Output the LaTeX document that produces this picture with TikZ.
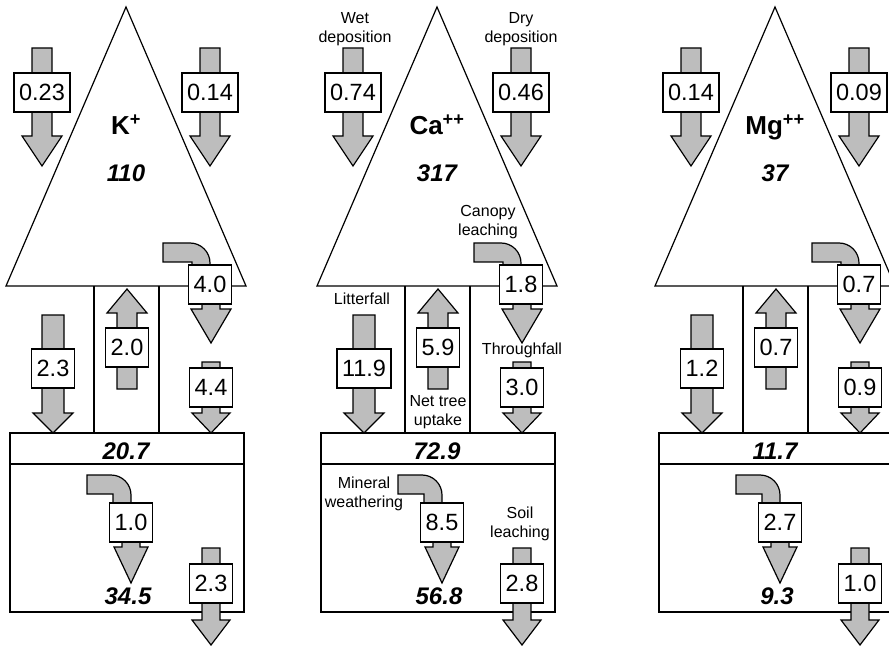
\documentclass[tikz,border=0pt]{standalone}
\usepackage{fontspec}
\setmainfont{Liberation Sans}
\usetikzlibrary{positioning}

\tikzset{
  flowarrow/.style={fill=black!26, draw=black, line width=1.2pt, line join=miter},
  val/.style={draw, fill=white, line width=1.5pt, inner xsep=5pt, inner ysep=0pt,
    minimum height=39pt, font=\fontsize{23.5}{26}\selectfont},
  ion/.style={anchor=base, font=\fontsize{26}{28}\selectfont\bfseries},
  pool/.style={anchor=base, font=\fontsize{24}{26}\selectfont\bfseries\itshape},
  lbl/.style={anchor=base, align=center, inner sep=0pt, font=\fontsize{16}{19}\selectfont},
}

% straight block arrow: x, tail, head base, tip, shaft half width, head half width
\newcommand{\blockarrow}[6]{%
  \filldraw[flowarrow] ({#1-#5},#2) -- ({#1+#5},#2) -- ({#1+#5},#3) -- ({#1+#6},#3)
    -- (#1,#4) -- ({#1-#6},#3) -- ({#1-#5},#3) -- cycle;}
% bent block arrow: start x, band top, right edge of the shaft, shaft end
\newcommand{\bentarrow}[4]{%
  \filldraw[flowarrow] (#1,#2) -- ({#3-20},#2) arc[start angle=-90, end angle=0, radius=20]
    -- (#3,#4) -- ({#3-18},#4) -- ({#3-18},{#2+19}) -- (#1,{#2+19}) -- cycle;}
% tree, floor and soil with the arrows, same for every ion
\newcommand{\panelframe}{%
  \draw[line width=1.2pt, line join=miter] (0,7) -- (120,286) -- (-120,286) -- cycle;
  \draw[line width=1.2pt] (-32,286) -- (-32,433) (33,286) -- (33,433);
  \draw[line width=1.5pt] (-116,433) rectangle (118,612);
  \draw[line width=1.2pt] (-116,464) -- (118,464);
  \blockarrow{-84}{48}{136}{166}{10}{20}
  \blockarrow{84}{48}{136}{166}{10}{20}
  \bentarrow{37}{243}{84}{275}
  \blockarrow{85}{295}{309}{343}{9}{20}
  \blockarrow{-73}{315}{413}{433}{11}{20}
  \blockarrow{1}{389}{313}{289}{10}{20}
  \blockarrow{85}{362}{413}{433}{9}{19}
  \bentarrow{-39}{475}{5}{515}
  \blockarrow{5}{530}{547}{583}{9}{17}
  \blockarrow{85}{548}{620}{645}{9}{19}}

\begin{document}
\begin{tikzpicture}[x=1pt, y=-1pt]
  \useasboundingbox (0,0) rectangle (889,647);
  \clip (0,0) rectangle (889,647);

  % potassium
  \begin{scope}[xshift=126pt]
    \panelframe
    \node[ion] (k-ion) at (0,135) {K\textsuperscript{+}};
    \node[pool] (k-tree) at (0,182) {110};
    \node[pool] (k-floor) at (0,459) {20.7};
    \node[pool] (k-soil) at (2,604) {34.5};
    \node[val] (k-wet) at (-84,92.5) {0.23};
    \node[val] (k-dry) at (84,92.5) {0.14};
    \node[val] (k-canopy) at (84,284.5) {4.0};
    \node[val] (k-litter) at (-73,368.5) {2.3};
    \node[val] (k-uptake) at (1,347.5) {2.0};
    \node[val] (k-through) at (85,387.5) {4.4};
    \node[val] (k-weath) at (5,522.5) {1.0};
    \node[val] (k-leach) at (85,583.5) {2.3};
  \end{scope}

  % calcium
  \begin{scope}[xshift=437pt]
    \panelframe
    \node[ion] (ca-ion) at (0,135) {Ca\textsuperscript{++}};
    \node[pool] (ca-tree) at (0,182) {317};
    \node[pool] (ca-floor) at (0,459) {72.9};
    \node[pool] (ca-soil) at (2,604) {56.8};
    \node[val] (ca-wet) at (-84,92.5) {0.74};
    \node[val] (ca-dry) at (84,92.5) {0.46};
    \node[val] (ca-canopy) at (84,284.5) {1.8};
    \node[val] (ca-litter) at (-73,368.5) {11.9};
    \node[val] (ca-uptake) at (1,347.5) {5.9};
    \node[val] (ca-through) at (85,387.5) {3.0};
    \node[val] (ca-weath) at (5,522.5) {8.5};
    \node[val] (ca-leach) at (85,583.5) {2.8};
    \node[lbl] (wet-lbl) at (-82,43) {Wet\\deposition};
    \node[lbl] (dry-lbl) at (84,43) {Dry\\deposition};
    \node[lbl] (canopy-lbl) at (51,236) {Canopy\\leaching};
    \node[lbl] (litter-lbl) at (-75,304) {Litterfall};
    \node[lbl] (through-lbl) at (85,354) {Throughfall};
    \node[lbl] (uptake-lbl) at (1,425) {Net tree\\uptake};
    \node[lbl] (weath-lbl) at (-73,507) {Mineral\\weathering};
    \node[lbl] (leach-lbl) at (83,537) {Soil\\leaching};
  \end{scope}

  % magnesium
  \begin{scope}[xshift=775pt]
    \panelframe
    \node[ion] (mg-ion) at (0,135) {Mg\textsuperscript{++}};
    \node[pool] (mg-tree) at (0,182) {37};
    \node[pool] (mg-floor) at (0,459) {11.7};
    \node[pool] (mg-soil) at (2,604) {9.3};
    \node[val] (mg-wet) at (-84,92.5) {0.14};
    \node[val] (mg-dry) at (84,92.5) {0.09};
    \node[val] (mg-canopy) at (84,284.5) {0.7};
    \node[val] (mg-litter) at (-73,368.5) {1.2};
    \node[val] (mg-uptake) at (1,347.5) {0.7};
    \node[val] (mg-through) at (85,387.5) {0.9};
    \node[val] (mg-weath) at (5,522.5) {2.7};
    \node[val] (mg-leach) at (85,583.5) {1.0};
  \end{scope}
\end{tikzpicture}
\end{document}
